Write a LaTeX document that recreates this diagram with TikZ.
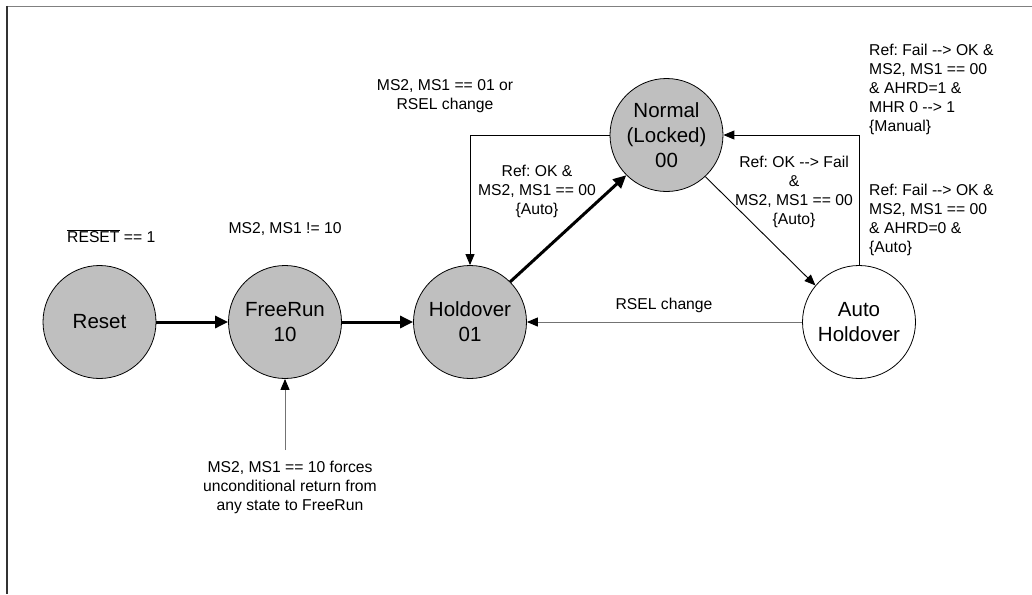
\documentclass[tikz,border=0pt]{standalone}
\usepackage{fontspec}
\setmainfont{Liberation Sans}[Ligatures=TeXOff]
\usetikzlibrary{arrows.meta}
\frenchspacing
\begin{document}
\begin{tikzpicture}[x=1pt,y=-1pt,
  state/.style={circle,draw=black,line width=0.8pt,minimum size=113pt,inner sep=0pt,align=center,
    font=\fontsize{20.5}{25}\selectfont},
  gstate/.style={state,fill=black!25},
  lbl/.style={align=center,inner sep=0pt,font=\fontsize{15.7}{19}\selectfont},
  lbll/.style={lbl,align=left,anchor=west},
  thick arrow/.style={line width=3pt,-{Triangle[length=13pt,width=12pt]}},
  thin arrow/.style={line width=0.9pt,-{Triangle[length=11pt,width=9pt]}},
  gray arrow/.style={draw=black!55,line width=1pt,-{Triangle[length=11pt,width=9pt,color=black]}}
]
\useasboundingbox (0,0) rectangle (1032,594);
\draw[draw=black!50,line width=1.6pt] (6.5,6.5) -- (1032,6.5);
\draw[draw=black!80,line width=1.3pt] (7,6) -- (7,594);

\node[gstate] (reset) at (99.5,322) {Reset};
\node[gstate] (free) at (285,322) {FreeRun\\10};
\node[gstate] (hold) at (470,322) {Holdover\\01};
\node[gstate] (norm) at (666.5,135) {Normal\\(Locked)\\00};
\node[state] (auto) at (859,322) {Auto\\Holdover};

\node[lbll] (lreset) at (67,236) {$\overline{\mbox{RESET}}$ == 1};
\node[lbl] (lms) at (285,229) {MS2, MS1 != 10};
\node[lbl] (lms01) at (445,96) {MS2, MS1 == 01 or\\RSEL change};
\node[lbl] (lok) at (537,191) {Ref: OK \&\\MS2, MS1 == 00\\\{Auto\}};
\node[lbl] (lfail) at (794,191.5) {Ref: OK --> Fail\\\&\\MS2, MS1 == 00\\\{Auto\}};
\node[lbll] (lman) at (869,89.5) {Ref: Fail --> OK \&\\MS2, MS1 == 00\\\& AHRD=1 \&\\MHR 0 --> 1\\\{Manual\}};
\node[lbll] (lauto) at (869,220) {Ref: Fail --> OK \&\\MS2, MS1 == 00\\\& AHRD=0 \&\\\{Auto\}};
\node[lbl] (lrsel) at (664,305) {RSEL change};
\node[lbl] (lforce) at (290,487.5) {MS2, MS1 == 10 forces\\unconditional return from\\any state to FreeRun};

\coordinate (src) at (285,450);

\draw[thick arrow] (reset) -- (free);
\draw[thick arrow] (free) -- (hold);
\draw[thick arrow] (hold.45) -- (norm.225);
\draw[thin arrow] (norm.west) -| (hold.north);
\draw[thin arrow] (norm.-47) -- (auto.140);
\draw[thin arrow] (auto.north) |- (norm.east);
\draw[gray arrow] (auto.west) -- (hold.east);
\draw[gray arrow] (src) -- (free.south);
\end{tikzpicture}
\end{document}
